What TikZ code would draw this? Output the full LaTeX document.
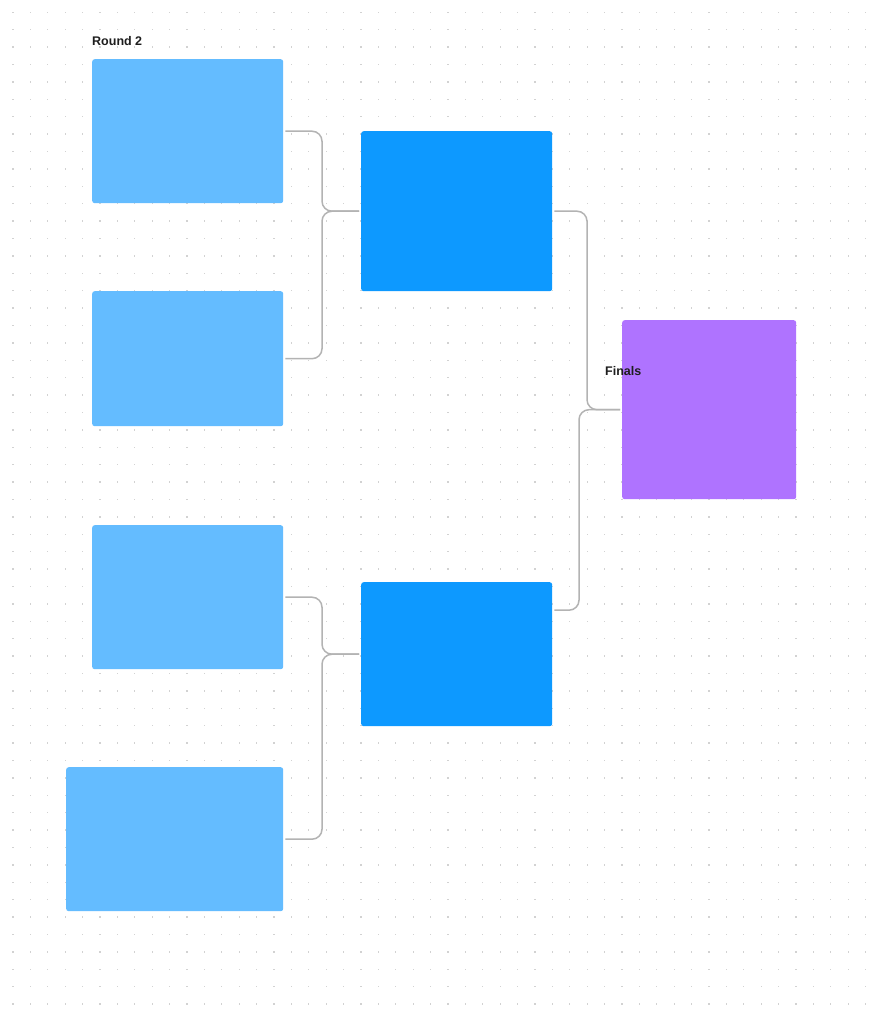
\documentclass[tikz,border=0pt]{standalone}
\usepackage{fontspec}
\setmainfont{Liberation Sans}
\definecolor{lightblue}{HTML}{64BCFF}
\definecolor{darkblue}{HTML}{0D99FF}
\definecolor{purplebox}{HTML}{AF73FF}
\definecolor{conncol}{HTML}{B3B3B3}
\definecolor{dotcol}{HTML}{D2D2D2}
\definecolor{txtcol}{HTML}{1E1E1E}
\tikzset{
  boxbase/.style={rectangle, rounded corners=2.5pt, inner sep=0pt, anchor=north west},
  lbox/.style={boxbase, fill=lightblue},
  dbox/.style={boxbase, fill=darkblue},
  pbox/.style={boxbase, fill=purplebox},
  conn/.style={draw=conncol, line width=1.5pt, rounded corners=10pt},
  lbl/.style={font=\bfseries\fontsize{12.5}{15}\selectfont, text=txtcol, anchor=base west, inner sep=0pt}
}
\begin{document}
\begin{tikzpicture}[x=1pt, y=-1pt]
\useasboundingbox (0,0) rectangle (880,1020);
\fill[white] (0,0) rectangle (880,1020);
% dot grid
\foreach \i in {0,...,49}{
  \foreach \j in {0,...,57}{
    \fill[dotcol] ({13+17.4*\i-0.65},{12.3+17.4*\j-0.65}) rectangle ++(1.3,1.3);
  }
}
% round 2 boxes
\node[lbox, minimum width=191pt, minimum height=144pt] (r1) at (92,59) {};
\node[lbox, minimum width=191pt, minimum height=135pt] (r2) at (92,291) {};
\node[lbox, minimum width=191pt, minimum height=144pt] (r3) at (92,525) {};
\node[lbox, minimum width=217pt, minimum height=144pt] (r4) at (66,767) {};
% semifinal boxes
\node[dbox, minimum width=191pt, minimum height=160pt] (m1) at (361,131) {};
\node[dbox, minimum width=191pt, minimum height=144pt] (m2) at (361,582) {};
% final box
\node[pbox, minimum width=174pt, minimum height=179pt] (fin) at (622,320) {};
% labels
\node[lbl] (lround) at (92,45) {Round 2};
\node[lbl] (lfinal) at (605,375) {Finals};
% connectors
\draw[conn] ([xshift=2pt]r1.east) -| ([xshift=-39pt]m1.west) -- ([xshift=-2pt]m1.west);
\draw[conn] ([xshift=2pt]r2.east) -| ([xshift=-39pt]m1.west) -- ([xshift=-2pt]m1.west);
\draw[conn] ([xshift=2pt]r3.east) -| ([xshift=-39pt]m2.west) -- ([xshift=-2pt]m2.west);
\draw[conn] ([xshift=2pt]r4.east) -| ([xshift=-39pt]m2.west) -- ([xshift=-2pt]m2.west);
\draw[conn] ([xshift=2pt]m1.east) -| ([xshift=-35pt]fin.west) -- ([xshift=-2pt]fin.west);
\draw[conn] ([xshift=2pt,yshift=44pt]m2.east) -| ([xshift=-43pt]fin.west) -- ([xshift=-2pt]fin.west);
\end{tikzpicture}
\end{document}
